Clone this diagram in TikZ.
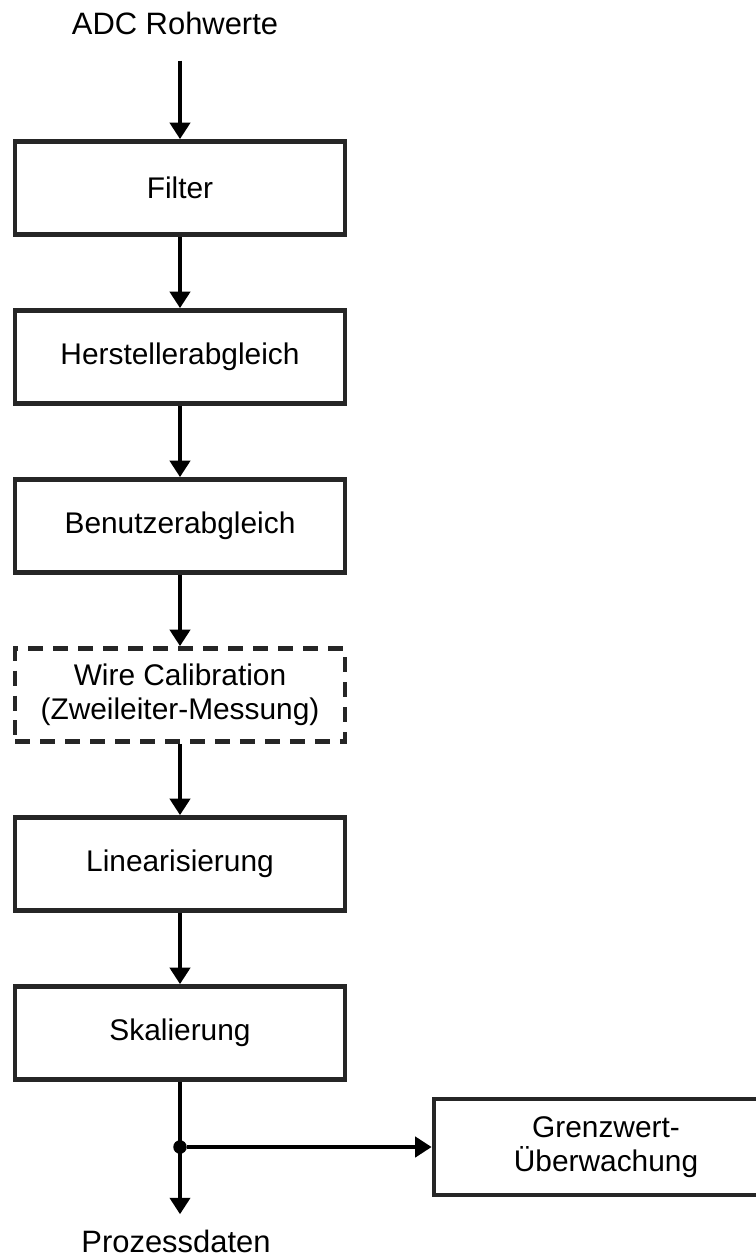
\documentclass[tikz,border=0pt]{standalone}
\usepackage{fontspec}
\setmainfont{Liberation Sans}
\usetikzlibrary{arrows.meta}

\begin{document}
\begin{tikzpicture}[x=0.02cm, y=-0.02cm,
        stage/.style={draw=black!85, line width=0.095cm, minimum width=6.6cm, minimum height=1.86cm,
            align=center, font=\fontsize{17}{19.3}\selectfont},
        optional/.style={stage, dash pattern=on 0.3cm off 0.2cm},
        io/.style={font=\fontsize{17.6}{20}\selectfont, anchor=base},
        flow/.style={line width=0.095cm, -{Triangle[length=0.33cm, width=0.4cm]}}]
        \useasboundingbox (0,0) rectangle (756,1256);
        % signal chain
        \node[io, inner sep=0.5cm] (adc) at (175,35) {ADC Rohwerte};
        \node[stage] (filter) at (180,188) {Filter};
        \node[stage] (herst) at (180,357) {Herstellerabgleich};
        \node[stage] (benutzer) at (180,526) {Benutzerabgleich};
        \node[optional] (wire) at (180,695) {Wire Calibration\\(Zweileiter-Messung)};
        \node[stage] (linear) at (180,864) {Linearisierung};
        \node[stage] (skal) at (180,1033) {Skalierung};
        \node[io, inner sep=0.3cm] (out) at (176,1252) {Prozessdaten};
        \node[stage, minimum width=6.88cm, minimum height=1.92cm] (grenz) at (606,1147) {Grenzwert-\\Überwachung};
        \foreach \a/\b in {filter/herst, herst/benutzer, benutzer/wire, wire/linear, linear/skal}
            \draw[flow] (\a) -- (\b);
        \draw[flow] (adc.south -| filter) -- (filter);
        \draw[flow] (skal) -- (skal |- out.north);
        % branch to limit monitoring
        \node[circle, fill=black, inner sep=0pt, minimum size=0.27cm] (split) at (180,1147) {};
        \draw[flow] (split) -- (grenz);
    \end{tikzpicture}
\end{document}
